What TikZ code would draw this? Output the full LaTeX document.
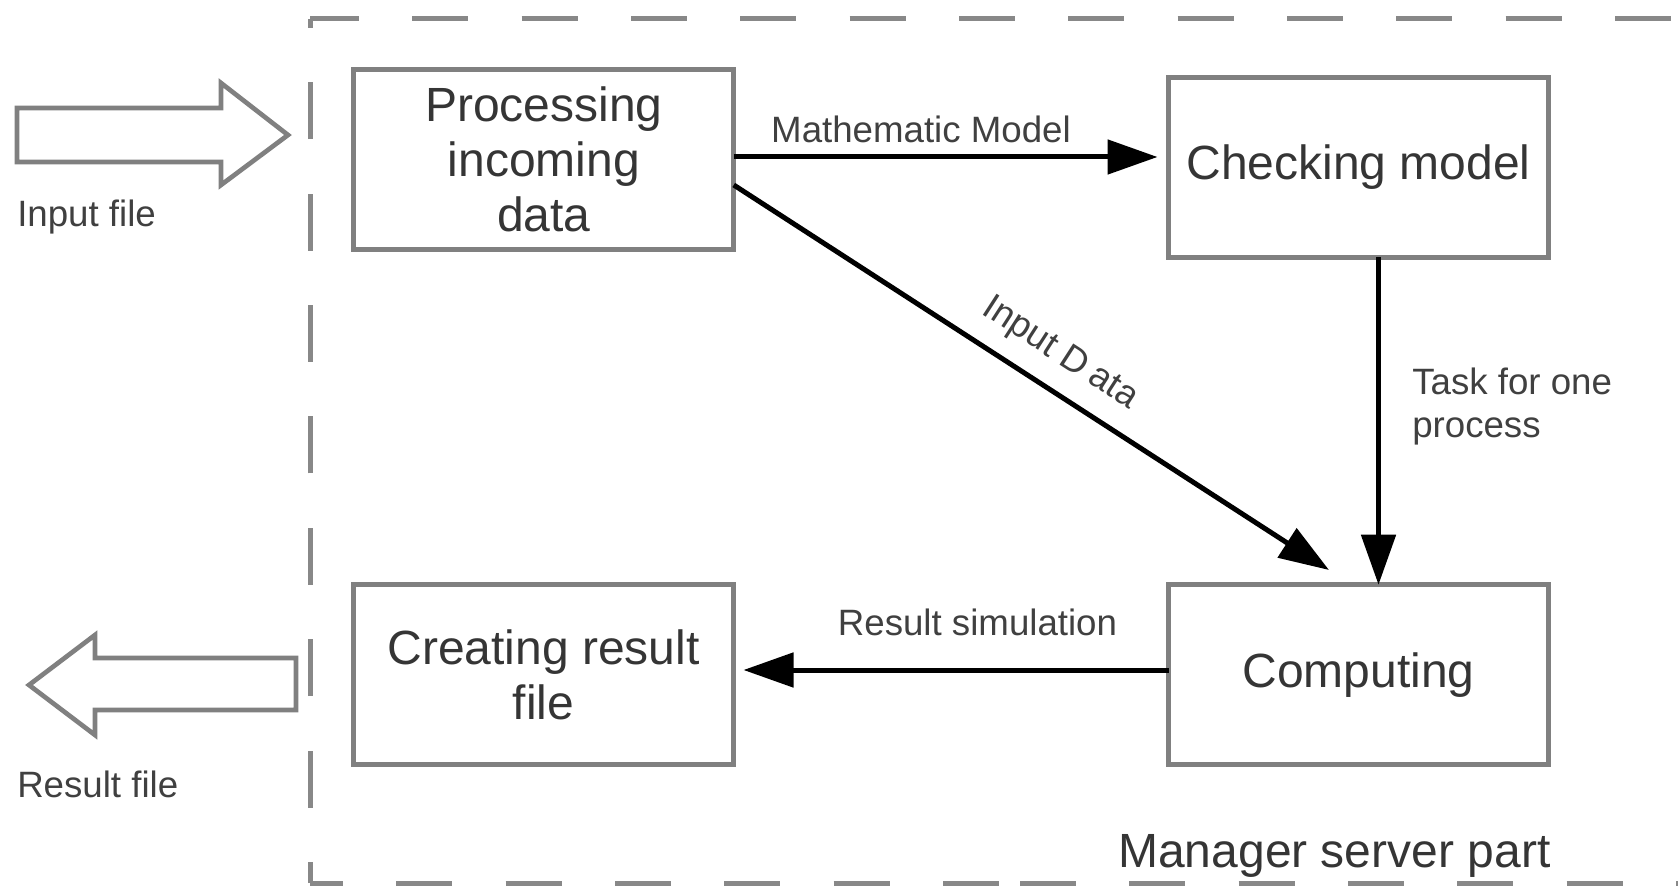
\documentclass[tikz,border=0pt]{standalone}
\usepackage{fontspec}
\setmainfont{Liberation Sans}
\usetikzlibrary{arrows.meta}
\definecolor{boxgray}{HTML}{808080}
\definecolor{dashgray}{HTML}{888888}
\definecolor{txtdark}{HTML}{353535}
\definecolor{lblcol}{HTML}{404040}
\begin{document}
\begin{tikzpicture}[x=0.75pt,y=-0.75pt,
  procbox/.style={draw=boxgray, line width=3.75pt, fill=white, inner sep=0pt, outer sep=0pt, align=center, text=txtdark, font=\fontsize{36pt}{41.25pt}\selectfont, minimum width=285pt, minimum height=135pt},
  conn/.style={draw=black, line width=3.75pt, -{Triangle[length=37.5pt,width=25.5pt]}},
  lbl/.style={text=lblcol, font=\fontsize{27.5pt}{32.25pt}\selectfont, inner sep=0pt},
  bigarrow/.style={draw=boxgray, line width=3.5pt, fill=white, line join=miter},
  dashframe/.style={draw=dashgray, line width=3.75pt},
]
\fill[white] (0,0) rectangle (1678,887);
\useasboundingbox (0,0) rectangle (1678,887);

% dashed frame of the manager server part
\draw[dashframe, dash pattern=on 42pt off 40pt, dash phase=5.25pt] (310,19) -- (1678,19);
\draw[dashframe, dash pattern=on 42.75pt off 40.8pt, dash phase=27pt] (310,883) -- (310,19);
\draw[dashframe, dash pattern=on 42pt off 40pt, dash phase=17.25pt] (310,883) -- (1000,883);
\draw[dashframe, dash pattern=on 42pt off 40pt] (1020,883) -- (1678,883);

% boxes
\node[procbox] (proc) at (543.75,159.5) {Processing\\incoming\\data};
\node[procbox] (check) at (1358.5,167.5) {Checking model};
\node[procbox] (create) at (543.5,674.5) {Creating result\\file};
\node[procbox] (comp) at (1358.5,674.75) {Computing};

% helper coordinates
\coordinate (mmy) at (0,157);
\coordinate (idy) at (0,185);
\coordinate (idend) at (1329,570);
\coordinate (tkx) at (1378.5,0);
\coordinate (rsy) at (0,670);

% connectors
\draw[conn, shorten >=8.25pt] (proc.east |- mmy) -- (check.west |- mmy);
\node[lbl, anchor=base] (mmlabel) at (921,143) {Mathematic Model};

\draw[conn] (proc.east |- idy) -- (idend);
\node[lbl, rotate=-32.9] (idlabel) at (1060,354) {Input D\kern6pt ata};

\draw[conn] (check.south -| tkx) -- (comp.north -| tkx);
\node[lbl, anchor=base west, align=left] (tasklabel) at (1412,438) {Task for one\\process};

\draw[conn, shorten >=7.5pt] (comp.west |- rsy) -- (create.east |- rsy);
\node[lbl, anchor=base] (rslabel) at (977.5,635) {Result simulation};

% input / output block arrows
\draw[bigarrow] (17,108) -- (221,108) -- (221,83) -- (288,135) -- (221,185) -- (221,162) -- (17,162) -- cycle;
\node[lbl, anchor=base west] (inlabel) at (17,227) {Input file};

\draw[bigarrow] (296,658) -- (95,658) -- (95,635) -- (29,685) -- (95,735) -- (95,710) -- (296,710) -- cycle;
\node[lbl, anchor=base west] (outlabel) at (17,797) {Result file};

\node[anchor=base west, text=txtdark, font=\fontsize{36pt}{40pt}\selectfont, inner sep=0pt] (mgr) at (1118,867) {Manager server part};
\end{tikzpicture}
\end{document}
